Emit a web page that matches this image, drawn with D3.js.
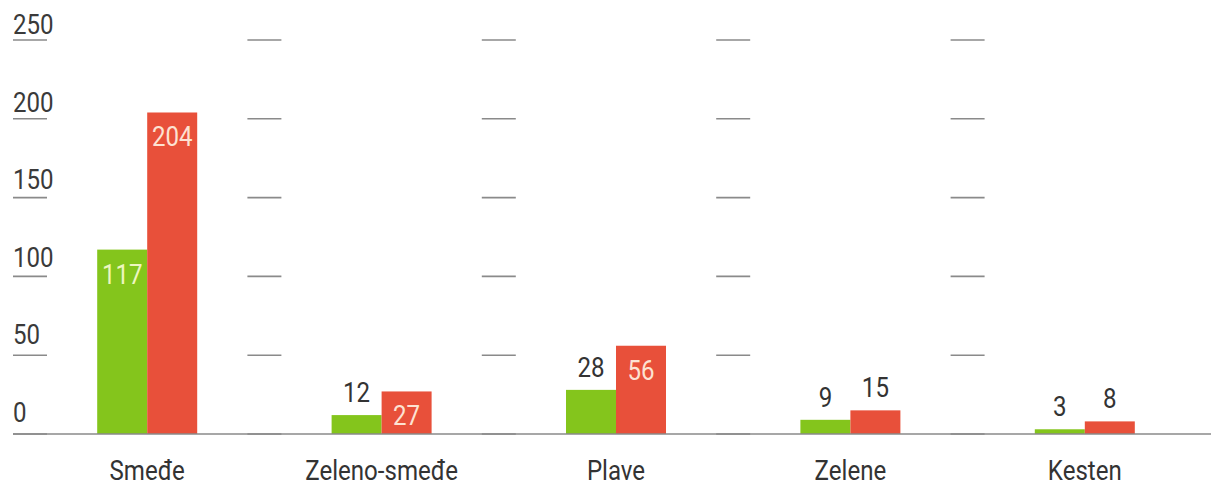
<!DOCTYPE html>
<html>
<head>
<meta charset="utf-8">
<script src="https://cdn.jsdelivr.net/npm/d3@7"></script>
<style>
  html, body { margin: 0; padding: 0; background: #fff; }
  svg { display: block; }
  text { font-family: Roboto, "Noto Sans", sans-serif; }
</style>
</head>
<body>
<svg id="chart" width="1211" height="485"></svg>
<script>
const categories = ["Smeđe", "Zeleno-smeđe", "Plave", "Zelene", "Kesten"];
const seriesGreen = [117, 12, 28, 9, 3];
const seriesRed = [204, 27, 56, 15, 8];
const greenLabelInside = [true, false, false, false, false];
const redLabelInside = [true, true, true, false, false];
const yTicks = [0, 50, 100, 150, 200, 250];

const W = 1211, H = 485;
const svg = d3.select("#chart");

const x = d3.scaleBand().domain(categories).range([30, 1202]).padding(0);
const y = d3.scaleLinear().domain([0, 250]).range([434, 40]);
const yLabel = d3.scaleLinear().domain([0, 250]).range([422, 34]);
const barW = 50;
const colors = { green: "#84c51c", red: "#e8503a" };
const FS = 28;
const SX = 0.86;

function ctext(g, tx, ty, str, anchor, fill) {
  return g.append("text")
    .attr("transform", `translate(${tx},${ty}) scale(${SX},1)`)
    .attr("text-anchor", anchor)
    .attr("font-size", FS)
    .attr("fill", fill)
    .text(str);
}

// grid dashes at every band boundary
const gridG = svg.append("g");
categories.forEach(c => {
  const bx = x(c);
  yTicks.forEach(t => {
    gridG.append("line")
      .attr("x1", bx - 17).attr("x2", bx + 17)
      .attr("y1", y(t)).attr("y2", y(t))
      .attr("stroke", "#8a8a8a").attr("stroke-width", 1.6);
  });
});

// y tick labels
const tickG = svg.append("g");
yTicks.forEach(t => ctext(tickG, 13, yLabel(t), t, "start", "#3a3a3a"));

// bars
const series = [
  { key: "green", values: seriesGreen, inside: greenLabelInside, off: -barW, txtIn: "#eef6c0" },
  { key: "red", values: seriesRed, inside: redLabelInside, off: 0, txtIn: "#fde2d2" }
];
const cx = c => x(c) + x.bandwidth() / 2;

series.forEach(s => {
  svg.append("g").selectAll("rect").data(categories).join("rect")
    .attr("x", c => cx(c) + s.off)
    .attr("y", (c, i) => y(s.values[i]))
    .attr("width", barW)
    .attr("height", (c, i) => y(0) - y(s.values[i]))
    .attr("fill", colors[s.key]);
});

// baseline
svg.append("line")
  .attr("x1", 13).attr("x2", W).attr("y1", y(0)).attr("y2", y(0))
  .attr("stroke", "#8a8a8a").attr("stroke-width", 1.6);

// value labels
series.forEach(s => {
  const g = svg.append("g");
  categories.forEach((c, i) => {
    const v = s.values[i];
    const ty = s.inside[i] ? y(v) + 34 : y(v) - 13;
    ctext(g, cx(c) + s.off + barW / 2, ty, v, "middle", s.inside[i] ? s.txtIn : "#333");
  });
});

// category labels
const catG = svg.append("g");
categories.forEach(c => ctext(catG, cx(c), 480, c, "middle", "#333"));
</script>
</body>
</html>
